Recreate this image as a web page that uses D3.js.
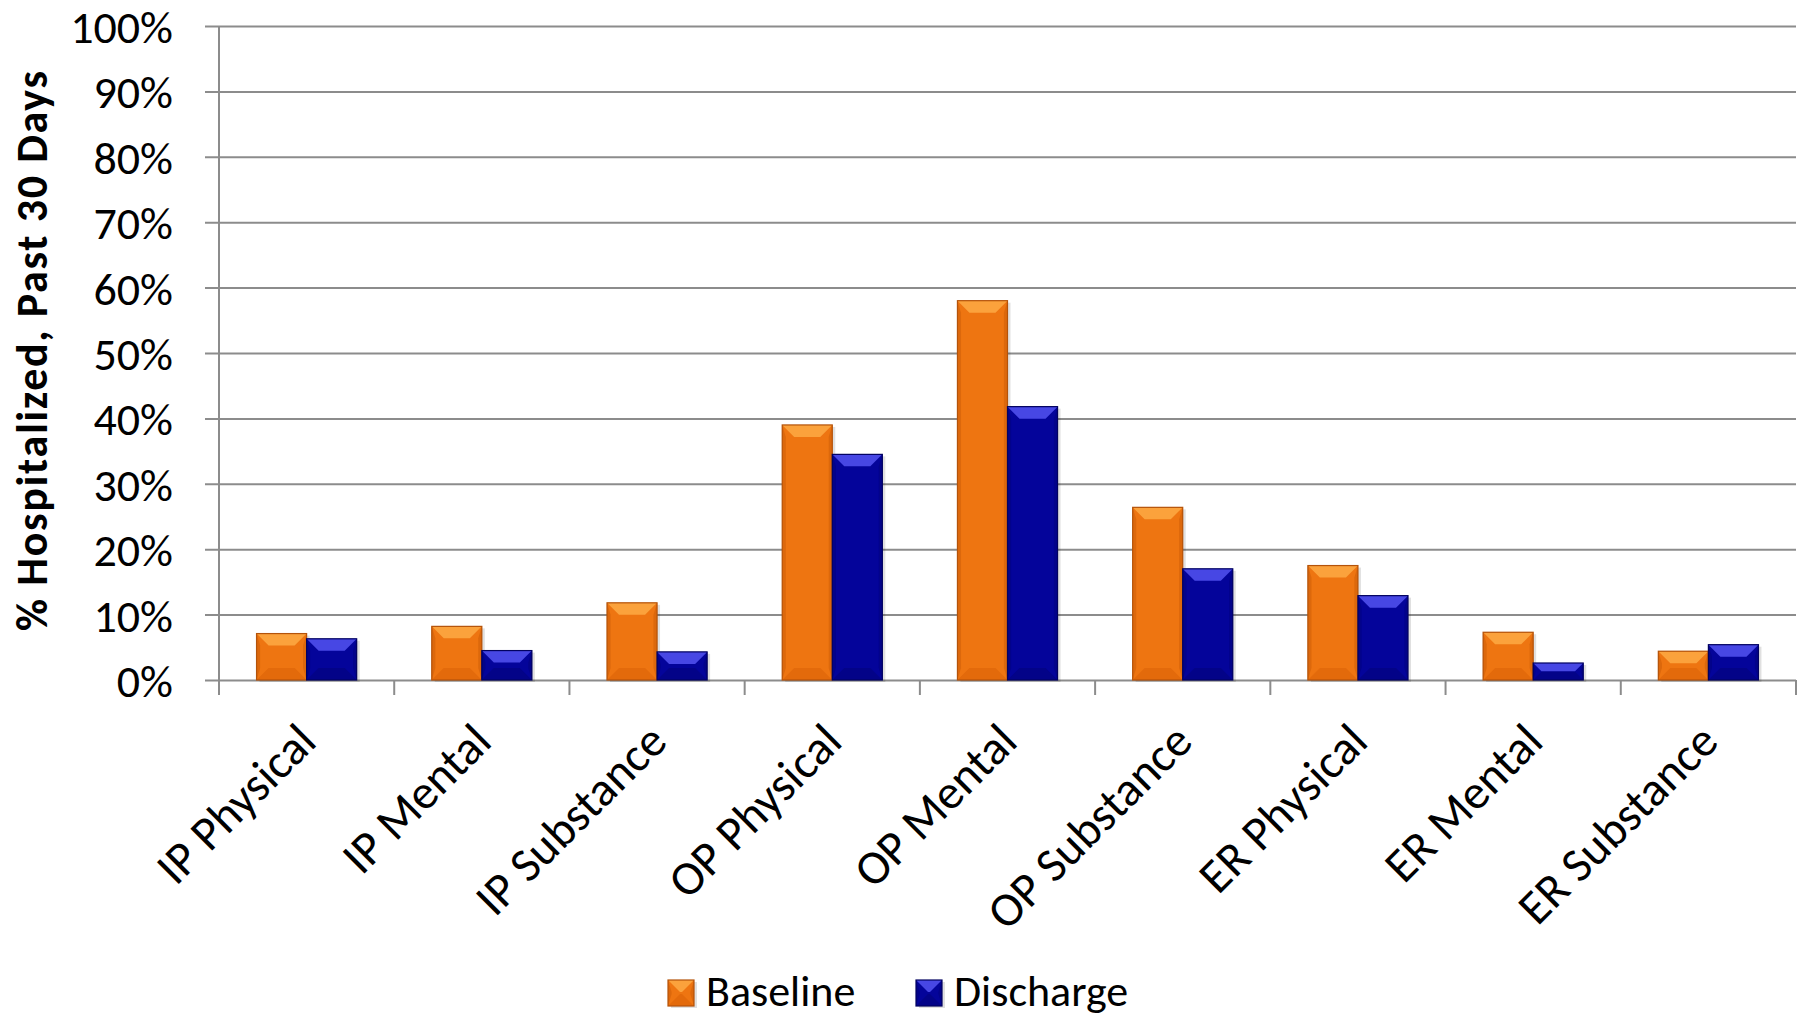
<!DOCTYPE html>
<html>
<head>
<meta charset="utf-8">
<script src="https://cdn.jsdelivr.net/npm/d3@7"></script>
<style>
  body { margin: 0; background: #fff; }
  svg { display: block; font-family: Carlito, Calibri, Lato, sans-serif; }
</style>
</head>
<body>
<div id="chart"></div>
<script>
var categories = ["IP Physical", "IP Mental", "IP Substance", "OP Physical", "OP Mental",
                  "OP Substance", "ER Physical", "ER Mental", "ER Substance"];
var seriesNames = ["Baseline", "Discharge"];
var baseline = [7.1, 8.2, 11.8, 39.0, 58.0, 26.4, 17.5, 7.3, 4.4];
var discharge = [6.3, 4.5, 4.3, 34.5, 41.8, 17.0, 12.9, 2.6, 5.4];
var yTicks = [0, 10, 20, 30, 40, 50, 60, 70, 80, 90, 100];

var width = 1804,
    height = 1018,
    plotLeft = 219, plotRight = 1796, plotTop = 26, plotBottom = 680;
var fontFamily = "Carlito, Calibri, Lato, sans-serif";

// colours for the bevelled bars: main, top, bottom, sides
var palette = {
  Baseline:  { main: "#EE7511", top: "#FBA23C", bottom: "#E36A0B", side: "#DC680C", edge: "#B4530A" },
  Discharge: { main: "#04049A", top: "#4747E4", bottom: "#030388", side: "#03038A", edge: "#020260" }
};

var svg = d3.select("#chart").append("svg")
    .attr("width", width)
    .attr("height", height);

var x = d3.scaleBand().domain(categories).range([plotLeft, plotRight]);
var x1 = d3.scaleBand().domain(seriesNames).range([0, x.bandwidth()]).paddingOuter(0.75);
var y = d3.scaleLinear().domain([0, 100]).range([plotBottom, plotTop]);

// gridlines + y labels (tick sticks out 14px left of the axis)
var yAxis = svg.append("g")
    .attr("transform", "translate(" + (plotLeft - 14) + ",0)")
    .call(d3.axisLeft(y).tickValues(yTicks)
      .tickFormat(function(d) { return d + "%"; })
      .tickSizeInner(-(plotRight - plotLeft + 14))
      .tickSizeOuter(0)
      .tickPadding(32));
yAxis.attr("font-family", fontFamily).attr("font-size", 46);
yAxis.select(".domain").remove();
yAxis.selectAll("line").attr("stroke", "#8c8c8c").attr("stroke-width", 2);
yAxis.selectAll("text").attr("fill", "#000").attr("dy", "0.36em");

// vertical axis line
svg.append("line")
    .attr("x1", plotLeft).attr("x2", plotLeft)
    .attr("y1", plotTop).attr("y2", plotBottom + 15)
    .attr("stroke", "#8c8c8c").attr("stroke-width", 2);

// x ticks at category boundaries
var bounds = categories.map(function(c) { return x(c); }).concat([plotRight]);
svg.append("g").selectAll("line")
    .data(bounds.slice(1))
    .enter().append("line")
    .attr("x1", function(d) { return d; }).attr("x2", function(d) { return d; })
    .attr("y1", plotBottom).attr("y2", plotBottom + 15)
    .attr("stroke", "#8c8c8c").attr("stroke-width", 2);

// bars
var rows = [];
categories.forEach(function(c, i) {
  rows.push({ cat: c, series: "Baseline", value: baseline[i] });
  rows.push({ cat: c, series: "Discharge", value: discharge[i] });
});

function bevelBar(g, x0, y0, w, h, col) {
  var b = Math.min(12, h / 2, w / 2);
  var xr = x0 + w, yb = y0 + h;
  g.append("rect").attr("x", x0 + 3).attr("y", y0 + 2).attr("width", w).attr("height", h)
    .attr("fill", "#000").attr("opacity", 0.12);
  g.append("rect").attr("x", x0).attr("y", y0).attr("width", w).attr("height", h).attr("fill", col.main);
  var poly = function(pts, fill) {
    g.append("polygon").attr("points", pts.map(function(p) { return p.join(","); }).join(" ")).attr("fill", fill);
  };
  poly([[x0, y0], [xr, y0], [xr - b, y0 + b], [x0 + b, y0 + b]], col.top);
  poly([[x0, yb], [xr, yb], [xr - b, yb - b], [x0 + b, yb - b]], col.bottom);
  poly([[x0, y0], [x0 + b * 0.3, y0 + b], [x0 + b * 0.3, yb - b], [x0, yb]], col.side);
  poly([[xr, y0], [xr - b * 0.3, y0 + b], [xr - b * 0.3, yb - b], [xr, yb]], col.side);
  g.append("rect").attr("x", x0).attr("y", y0).attr("width", w).attr("height", h)
    .attr("fill", "none").attr("stroke", col.edge).attr("stroke-width", 1.2);
}

var barG = svg.append("g");
rows.forEach(function(d) {
  var bx = x(d.cat) + x1(d.series);
  var by = y(d.value);
  bevelBar(barG.append("g"), bx, by, x1.bandwidth(), plotBottom - by, palette[d.series]);
});

// x labels, rotated
svg.append("g").selectAll("text")
    .data(categories)
    .enter().append("text")
    .attr("transform", function(d) {
      return "translate(" + (x(d) + x.bandwidth() / 2 + 12) + "," + (plotBottom + 64) + ") rotate(-45)";
    })
    .attr("text-anchor", "end")
    .attr("font-size", 48)
    .text(function(d) { return d; });

// y title
svg.append("text")
    .attr("transform", "translate(47,351) rotate(-90)")
    .attr("text-anchor", "middle")
    .attr("font-size", 44)
    .attr("font-weight", "bold")
    .attr("textLength", 560)
    .attr("lengthAdjust", "spacing")
    .text("% Hospitalized, Past 30 Days");

// legend
var legendX = [668, 916];
var legend = svg.append("g").selectAll("g")
    .data(seriesNames)
    .enter().append("g")
    .attr("transform", function(d, i) { return "translate(" + legendX[i] + ",980)"; });
legend.each(function(d) {
  bevelBar(d3.select(this), 0, 0, 26, 26, palette[d]);
});
legend.append("text")
    .attr("x", 38).attr("y", 26)
    .attr("font-size", 44)
    .text(function(d) { return d; });
</script>
</body>
</html>
